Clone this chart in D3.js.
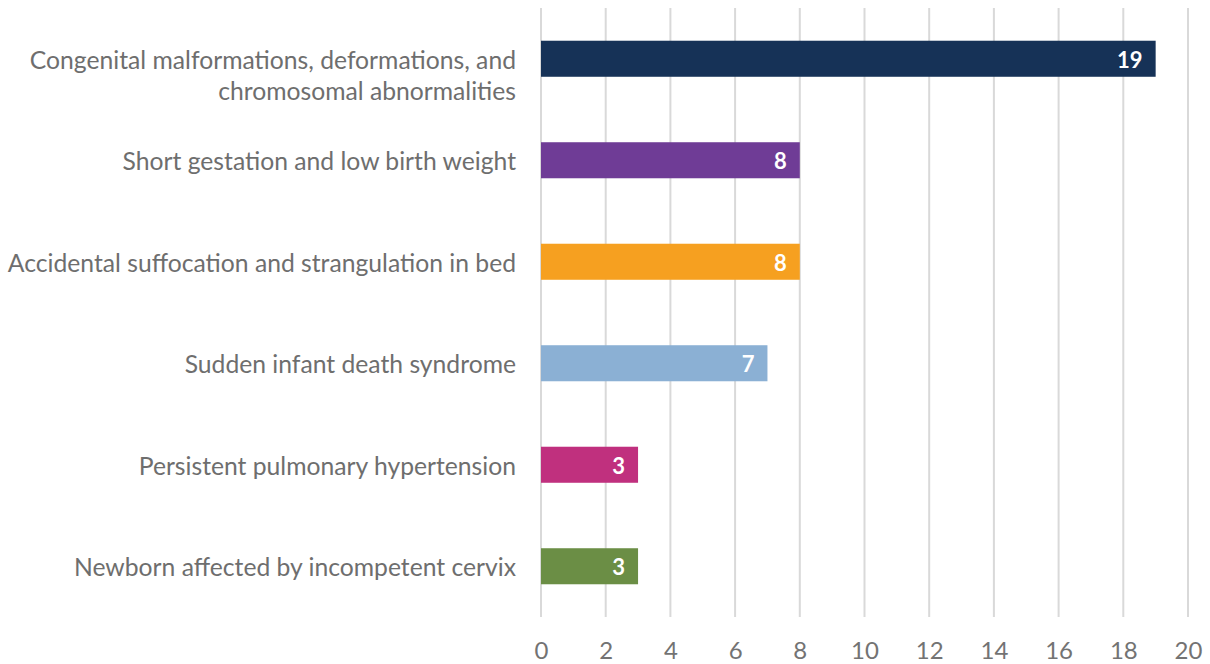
<!DOCTYPE html>
<html>
<head>
<meta charset="utf-8">
<script src="https://cdn.jsdelivr.net/npm/d3@7"></script>
<style>
  html, body { margin: 0; padding: 0; background: #fff; }
  svg { display: block; }
</style>
</head>
<body>
<svg id="chart" width="1210" height="664"></svg>
<script>
// Causes of infant death and their counts
const causes = [
  ["Congenital malformations, deformations, and", "chromosomal abnormalities"],
  ["Short gestation and low birth weight"],
  ["Accidental suffocation and strangulation in bed"],
  ["Sudden infant death syndrome"],
  ["Persistent pulmonary hypertension"],
  ["Newborn affected by incompetent cervix"]
];
const counts = [19, 8, 8, 7, 3, 3];
const barColors = ["#163257", "#6f3c96", "#f6a020", "#8bb0d4", "#c0307e", "#6b8e45"];
const xTicks = [0, 2, 4, 6, 8, 10, 12, 14, 16, 18, 20];

const font = "Lato, 'Open Sans', sans-serif";
const svg = d3.select("#chart");
const margin = { left: 541, right: 22, top: 8, bottom: 47 };
const W = 1210, H = 664;

const x = d3.scaleLinear().domain([0, 20]).range([margin.left, W - margin.right]);
const y = d3.scaleBand()
  .domain(d3.range(causes.length))
  .range([margin.top, H - margin.bottom])
  .paddingInner(0.645)
  .paddingOuter(0.3225);

// vertical gridlines
svg.append("g")
  .selectAll("line")
  .data(xTicks)
  .join("line")
  .attr("x1", d => x(d)).attr("x2", d => x(d))
  .attr("y1", margin.top).attr("y2", H - margin.bottom)
  .attr("stroke", "#d9d9d9")
  .attr("stroke-width", 2);

// x axis tick labels
const xAxis = d3.axisBottom(x).tickValues(xTicks).tickSize(0).tickPadding(0);
const gx = svg.append("g")
  .attr("transform", `translate(0,${H - margin.bottom})`)
  .call(xAxis);
gx.select(".domain").remove();
gx.selectAll("text")
  .attr("y", 42)
  .attr("dy", "0")
  .attr("font-family", font)
  .attr("font-size", 24)
  .attr("fill", "#737373");

// bars
svg.append("g")
  .selectAll("rect")
  .data(counts)
  .join("rect")
  .attr("x", x(0))
  .attr("y", (d, i) => y(i))
  .attr("width", d => x(d) - x(0))
  .attr("height", y.bandwidth())
  .attr("fill", (d, i) => barColors[i]);

// value labels inside bar ends
svg.append("g")
  .selectAll("text")
  .data(counts)
  .join("text")
  .attr("x", d => x(d) - 13)
  .attr("y", (d, i) => y(i) + y.bandwidth() / 2 + 1)
  .attr("dy", "0.36em")
  .attr("text-anchor", "end")
  .attr("font-family", font)
  .attr("font-weight", "bold")
  .attr("font-size", 22)
  .attr("fill", "#ffffff")
  .text(d => d);

// category labels
const catG = svg.append("g");
causes.forEach((lines, i) => {
  const cy = y(i) + y.bandwidth() / 2 + 1;
  const lh = 31;
  const t = catG.append("text")
    .attr("text-anchor", "end")
    .attr("font-family", font)
    .attr("font-size", 24.7)
    .attr("fill", "#6e6e6e");
  lines.forEach((s, j) => {
    t.append("tspan")
      .attr("x", 516)
      .attr("y", cy + j * lh)
      .attr("dy", "0.36em")
      .text(s);
  });
});
</script>
</body>
</html>
